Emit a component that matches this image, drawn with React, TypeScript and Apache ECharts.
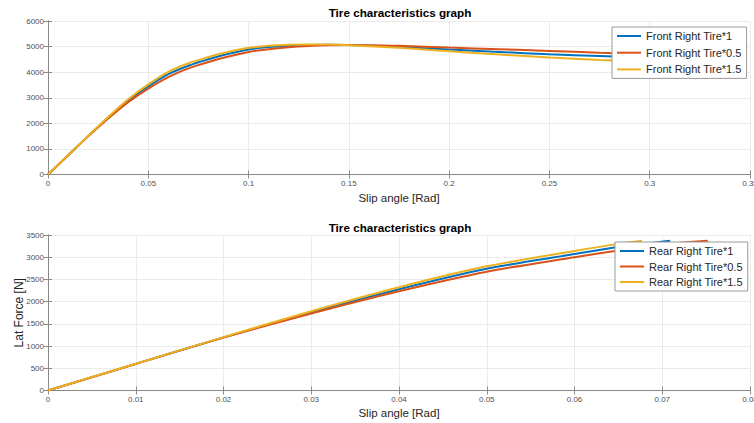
import React, { useEffect, useRef } from "react";
import * as echarts from "echarts";

// ---- Data ----
const titleText = "Tire characteristics graph";
const xAxisName = "Slip angle [Rad]";
const yAxisName = "Lat Force [N]";

const frontNames = ["Front Right Tire*1", "Front Right Tire*0.5", "Front Right Tire*1.5"];
const rearNames = ["Rear Right Tire*1", "Rear Right Tire*0.5", "Rear Right Tire*1.5"];

const frontX = [0, 0.01, 0.02, 0.03, 0.04, 0.05, 0.06, 0.07, 0.08, 0.09, 0.1, 0.11, 0.12, 0.13, 0.14, 0.15, 0.175, 0.2, 0.225, 0.25, 0.275, 0.3];
const front1 = [0, 750, 1500, 2220, 2890, 3440, 3920, 4250, 4505, 4720, 4890, 4980, 5030, 5060, 5070, 5060, 4990, 4885, 4790, 4700, 4630, 4560];
const front05 = [0, 745, 1490, 2190, 2830, 3360, 3810, 4150, 4400, 4610, 4790, 4900, 4975, 5025, 5055, 5065, 5030, 4960, 4895, 4830, 4760, 4700];
const front15 = [0, 755, 1510, 2250, 2940, 3520, 4010, 4350, 4590, 4800, 4950, 5030, 5070, 5085, 5080, 5055, 4950, 4815, 4690, 4570, 4480, 4400];

const rearX1 = [0, 0.01, 0.02, 0.03, 0.04, 0.05, 0.06, 0.065, 0.0709];
const rear1 = [0, 600, 1195, 1760, 2280, 2740, 3070, 3230, 3370];
const rearX05 = [0, 0.01, 0.02, 0.03, 0.04, 0.05, 0.06, 0.065, 0.07, 0.0752];
const rear05 = [0, 598, 1190, 1735, 2235, 2675, 3000, 3150, 3290, 3372];
const rearX15 = [0, 0.01, 0.02, 0.03, 0.04, 0.05, 0.06, 0.065, 0.0677];
const rear15 = [0, 602, 1202, 1785, 2325, 2795, 3140, 3300, 3370];

const colors = ["#0072BD", "#D95319", "#EDB120"];

const FONT = "Liberation Sans";
const AXIS_COLOR = "#8a8a8a";
const GRID_COLOR = "#ebebeb";

const pairs = (xs: number[], ys: number[]) => xs.map((x, i) => [x, ys[i]]);
const fmt = (v: number) => String(+v.toFixed(4));

function mainX(gridIndex: number, max: number, interval: number, nameGap: number) {
  return {
    type: "value",
    gridIndex,
    min: 0,
    max,
    interval,
    position: "bottom",
    name: xAxisName,
    nameLocation: "middle",
    nameGap,
    nameTextStyle: { fontFamily: FONT, fontSize: 11.5, color: "#262626" },
    axisLine: { show: true, lineStyle: { color: AXIS_COLOR, width: 1 } },
    axisTick: { show: true, inside: true, length: 4, lineStyle: { color: AXIS_COLOR } },
    axisLabel: { fontFamily: FONT, fontSize: 8, color: "#505050", margin: 5, formatter: fmt, showMaxLabel: true, hideOverlap: false },
    splitLine: { show: true, lineStyle: { color: GRID_COLOR, width: 1 } },
  };
}

function topX(gridIndex: number, max: number, interval: number) {
  return {
    type: "value",
    gridIndex,
    min: 0,
    max,
    interval,
    position: "top",
    axisLine: { show: true, lineStyle: { color: AXIS_COLOR, width: 1 } },
    axisTick: { show: true, inside: true, length: 4, lineStyle: { color: AXIS_COLOR } },
    axisLabel: { show: false },
    splitLine: { show: false },
  };
}

function mainY(gridIndex: number, max: number, interval: number, name: string) {
  return {
    type: "value",
    gridIndex,
    min: 0,
    max,
    interval,
    position: "left",
    name,
    nameLocation: "middle",
    nameGap: 23,
    nameMoveOverlap: false,
    nameTextStyle: { fontFamily: FONT, fontSize: 12, color: "#262626" },
    axisLine: { show: true, lineStyle: { color: AXIS_COLOR, width: 1 } },
    axisTick: { show: true, inside: true, length: 4, lineStyle: { color: AXIS_COLOR } },
    axisLabel: { fontFamily: FONT, fontSize: 8, color: "#505050", margin: 4, formatter: (v: number) => String(v) },
    splitLine: { show: true, lineStyle: { color: GRID_COLOR, width: 1 } },
  };
}

function rightY(gridIndex: number, max: number, interval: number) {
  return {
    type: "value",
    gridIndex,
    min: 0,
    max,
    interval,
    position: "right",
    axisLine: { show: true, lineStyle: { color: AXIS_COLOR, width: 1 } },
    axisTick: { show: true, inside: true, length: 4, lineStyle: { color: AXIS_COLOR } },
    axisLabel: { show: false },
    splitLine: { show: false },
  };
}

function lineSeries(name: string, data: number[][], color: string, axisIndex: number) {
  return {
    type: "line",
    name,
    data,
    xAxisIndex: axisIndex,
    yAxisIndex: axisIndex,
    showSymbol: false,
    symbol: "none",
    smooth: 0.3,
    lineStyle: { color, width: 2 },
    itemStyle: { color },
    z: 2,
  };
}

function legend(names: string[], left: number, top: number, itemGap: number) {
  return {
    orient: "vertical",
    left,
    top,
    data: names,
    icon: "rect",
    itemWidth: 24,
    itemHeight: 2,
    itemGap,
    padding: [3, 5, 3, 5],
    backgroundColor: "#ffffff",
    borderColor: "#9a9a9a",
    borderWidth: 1,
    borderRadius: 0,
    textStyle: { fontFamily: FONT, fontSize: 11, color: "#262626", lineHeight: 12 },
    selectedMode: false,
    z: 10,
  };
}

export default function App() {
  const ref = useRef<HTMLDivElement>(null);

  useEffect(() => {
    if (!ref.current) return;
    const chart = echarts.init(ref.current, undefined, { renderer: "svg" });
    const option = {
      animation: false,
      backgroundColor: "#ffffff",
      textStyle: { fontFamily: FONT },
      graphic: [
        {
          type: "text",
          x: 400,
          y: 12.5,
          style: { text: titleText, font: `bold 11.7px "${FONT}"`, fill: "#000", textAlign: "center", textVerticalAlign: "middle" },
        },
        {
          type: "text",
          x: 400,
          y: 227.5,
          style: { text: titleText, font: `bold 11.7px "${FONT}"`, fill: "#000", textAlign: "center", textVerticalAlign: "middle" },
        },
      ],
      grid: [
        { left: 48, right: 4, top: 21, height: 153.5, show: false, containLabel: false, outerBoundsMode: "none" },
        { left: 48, right: 4, top: 235, height: 155.5, show: false, containLabel: false, outerBoundsMode: "none" },
      ],
      xAxis: [
        mainX(0, 0.35, 0.05, 17),
        topX(0, 0.35, 0.05),
        mainX(1, 0.08, 0.01, 16),
        topX(1, 0.08, 0.01),
      ],
      yAxis: [
        mainY(0, 6000, 1000, ""),
        rightY(0, 6000, 1000),
        mainY(1, 3500, 500, yAxisName),
        rightY(1, 3500, 500),
      ],
      legend: [legend(frontNames, 612, 27, 4.7), legend(rearNames, 615, 242, 3.5)],
      series: [
        lineSeries(frontNames[0], pairs(frontX, front1), colors[0], 0),
        lineSeries(frontNames[1], pairs(frontX, front05), colors[1], 0),
        lineSeries(frontNames[2], pairs(frontX, front15), colors[2], 0),
        lineSeries(rearNames[0], pairs(rearX1, rear1), colors[0], 2),
        lineSeries(rearNames[1], pairs(rearX05, rear05), colors[1], 2),
        lineSeries(rearNames[2], pairs(rearX15, rear15), colors[2], 2),
      ],
    };
    chart.setOption(option as any);
    return () => chart.dispose();
  }, []);

  return (
    <div
      ref={ref}
      style={{ position: "fixed", left: 0, top: 0, width: 754, height: 423, background: "#fff" }}
    />
  );
}
